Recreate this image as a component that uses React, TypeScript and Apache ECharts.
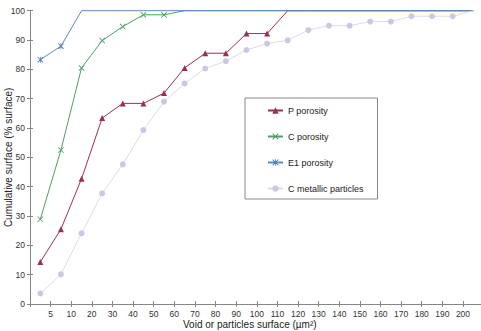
import React, { useEffect, useRef } from "react";
import * as echarts from "echarts";

// Surface bins (upper bound of each class, µm²); the last bin is open-ended
const xLabels = ["5", "10", "20", "30", "40", "50", "60", "70", "80", "90", "100", "110", "120", "130", "140", "150", "160", "170", "180", "190", "200"];
const binCount = 22;

// Cumulative surface (% surface) per bin
const pPorosity = [14.3, 25.5, 42.7, 63.4, 68.4, 68.4, 71.9, 80.5, 85.5, 85.5, 92.2, 92.2, 100, 100, 100, 100, 100, 100, 100, 100, 100, 100];
const cPorosity = [28.9, 52.5, 80.5, 89.8, 94.6, 98.6, 98.6, 100, 100, 100, 100, 100, 100, 100, 100, 100, 100, 100, 100, 100, 100, 100];
const e1Porosity = [83.3, 87.9, 100, 100, 100, 100, 100, 100, 100, 100, 100, 100, 100, 100, 100, 100, 100, 100, 100, 100, 100, 100];
const cMetallic = [3.6, 10.1, 24.1, 37.7, 47.6, 59.3, 69.0, 75.2, 80.3, 82.8, 86.6, 88.8, 89.9, 93.4, 94.9, 94.9, 96.3, 96.3, 98.1, 98.1, 98.1, 100];

const yTicks = { min: 0, max: 100, step: 10 };

const FONT = "Liberation Sans, Arial, sans-serif";

const crossSymbol =
  "path://M0,1L1,0L5,4L9,0L10,1L6,5L10,9L9,10L5,6L1,10L0,9L4,5Z";
const starSymbol =
  "path://M0,1L1,0L4.4,3.4L4.4,0L5.6,0L5.6,3.4L9,0L10,1L6.2,4.8L6.2,5.2L10,9L9,10L5.6,6.6L5.6,10L4.4,10L4.4,6.6L1,10L0,9L3.8,5.2L3.8,4.8Z";

function toPoints(values: number[]) {
  // Place each value at the middle of its bin; points at 100 % carry no marker
  return values.map((v, i) =>
    v >= 100 ? { value: [i + 0.5, v], symbol: "none" } : [i + 0.5, v]
  );
}

export default function App() {
  const ref = useRef<HTMLDivElement>(null);

  useEffect(() => {
    if (!ref.current) return;
    const chart = echarts.init(ref.current, null, { renderer: "svg" });
    const axisColor = "#868686";

    const xBase = {
      type: "value" as const,
      min: 0,
      max: binCount,
      interval: 1,
    };
    const yBase = {
      type: "value" as const,
      min: yTicks.min,
      max: yTicks.max,
      interval: yTicks.step,
    };

    chart.setOption({
      animation: false,
      textStyle: { fontFamily: FONT },
      grid: {
        left: 30,
        top: 10.7,
        width: 453.6,
        height: 293.3,
        outerBoundsMode: "none",
        containLabel: false,
      },
      xAxis: [
        {
          ...xBase,
          name: "Void or particles surface (µm²)",
          nameLocation: "middle",
          nameGap: 15,
          nameMoveOverlap: false,
          nameTextStyle: {
            fontSize: 10,
            color: "#222",
            fontFamily: FONT,
            padding: [0, 14, 0, 0],
          },
          axisLine: { show: true, lineStyle: { color: axisColor, width: 1 } },
          axisTick: { show: true, length: 3, lineStyle: { color: axisColor } },
          axisLabel: {
            fontSize: 8.5,
            color: "#333",
            margin: 5,
            fontFamily: FONT,
            formatter: (v: number) =>
              v >= 1 && v <= xLabels.length ? xLabels[v - 1] : "",
          },
          splitLine: { show: false },
        },
        {
          ...xBase,
          position: "bottom",
          axisLine: { show: false },
          axisTick: { show: true, inside: true, length: 3, lineStyle: { color: axisColor } },
          axisLabel: { show: false },
          splitLine: { show: false },
        },
      ],
      yAxis: [
        {
          ...yBase,
          name: "Cumulative surface (% surface)",
          nameLocation: "middle",
          nameGap: 17,
          nameMoveOverlap: false,
          nameTextStyle: { fontSize: 10, color: "#222", fontFamily: FONT },
          axisLine: { show: true, lineStyle: { color: axisColor, width: 1 } },
          axisTick: { show: true, length: 3, lineStyle: { color: axisColor } },
          axisLabel: { fontSize: 8.5, color: "#333", margin: 5, fontFamily: FONT },
          splitLine: { show: false },
        },
        {
          ...yBase,
          position: "left",
          axisLine: { show: false },
          axisTick: { show: true, inside: true, length: 3, lineStyle: { color: axisColor } },
          axisLabel: { show: false },
          splitLine: { show: false },
        },
      ],
      legend: {
        orient: "vertical",
        left: 245,
        top: 98,
        itemWidth: 15,
        itemHeight: 8,
        itemGap: 17,
        padding: [8, 14, 6, 22],
        borderColor: "#888",
        borderWidth: 1,
        backgroundColor: "#fff",
        textStyle: { fontSize: 9, color: "#222", fontFamily: FONT },
        data: ["P porosity", "C porosity", "E1 porosity", "C metallic particles"],
      },
      series: [
        {
          name: "P porosity",
          type: "line",
          data: toPoints(pPorosity),
          symbol: "triangle",
          symbolSize: 6,
          lineStyle: { color: "#9b2f52", width: 1 },
          itemStyle: { color: "#9b2f52" },
          clip: false,
        },
        {
          name: "C porosity",
          type: "line",
          data: toPoints(cPorosity),
          symbol: crossSymbol,
          symbolSize: 6,
          lineStyle: { color: "#4e9e66", width: 1 },
          itemStyle: { color: "#4e9e66" },
          clip: false,
        },
        {
          name: "E1 porosity",
          type: "line",
          data: toPoints(e1Porosity),
          symbol: starSymbol,
          symbolSize: 6,
          lineStyle: { color: "#5a88c6", width: 1 },
          itemStyle: { color: "#4a7abd" },
          clip: false,
        },
        {
          name: "C metallic particles",
          type: "line",
          data: toPoints(cMetallic),
          symbol: "circle",
          symbolSize: 6,
          lineStyle: { color: "#dcdcee", width: 1 },
          itemStyle: { color: "#c9c9e4" },
          clip: false,
        },
      ],
    });

    return () => chart.dispose();
  }, []);

  return <div ref={ref} style={{ width: 481, height: 331, position: "absolute", left: 0, top: 0 }} />;
}
